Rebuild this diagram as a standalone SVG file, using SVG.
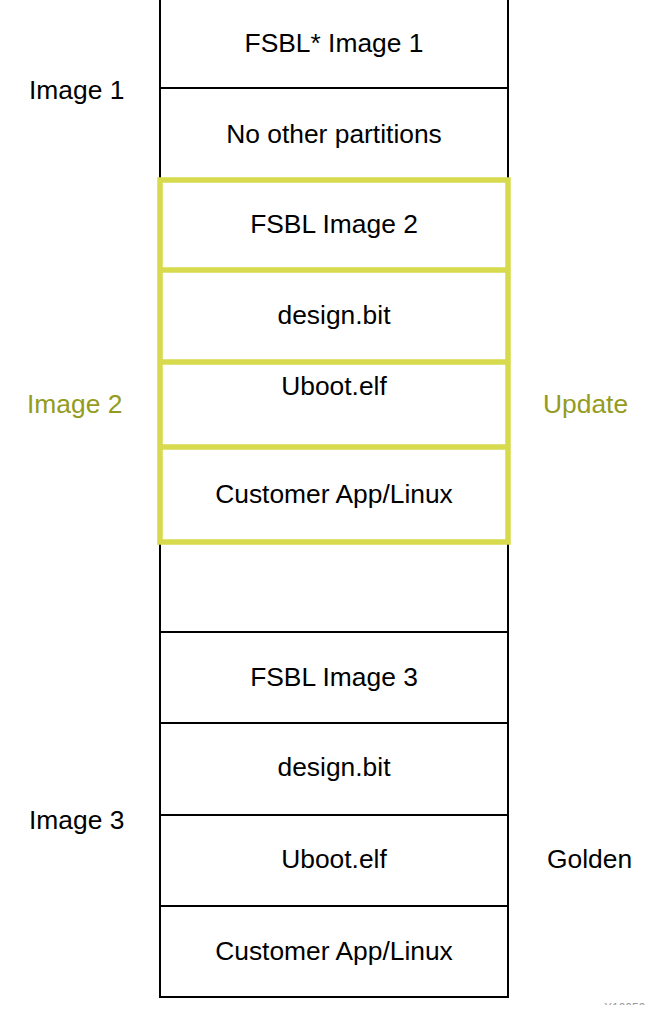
<svg xmlns="http://www.w3.org/2000/svg" width="657" height="1013" viewBox="0 0 657 1013">
<defs>
<style>
.cell{fill:#fff;stroke:#000;stroke-width:2}
.hl{fill:none;stroke:#d6da4c;stroke-width:5.5}
.t{font-family:"Liberation Sans",Arial,sans-serif;font-size:26.4px;fill:#000;text-anchor:middle}
.side{font-family:"Liberation Sans",Arial,sans-serif;font-size:26.4px;fill:#000}
.olive{fill:#949b1e}
.fig{font-family:"Liberation Sans",Arial,sans-serif;font-size:12px;fill:#9a9a9a}
</style>
<clipPath id="figclip"><rect x="590" y="995" width="67" height="10"/></clipPath>
</defs>
<rect width="657" height="1013" fill="#fff"/>
<g id="column">
<g id="fsbl1"><rect class="cell" x="160" y="-5" width="348" height="93"/><text class="t" x="334" y="52">FSBL* Image 1</text></g>
<g id="noother"><rect class="cell" x="160" y="88" width="348" height="92"/><text class="t" x="334" y="143">No other partitions</text></g>
<g id="fsbl2"><rect class="cell" x="160" y="180" width="348" height="90"/><text class="t" x="334" y="233">FSBL Image 2</text></g>
<g id="design2"><rect class="cell" x="160" y="270" width="348" height="92"/><text class="t" x="334" y="324">design.bit</text></g>
<g id="uboot2"><rect class="cell" x="160" y="362" width="348" height="85"/><text class="t" x="334" y="395">Uboot.elf</text></g>
<g id="app2"><rect class="cell" x="160" y="447" width="348" height="95"/><text class="t" x="334" y="503">Customer App/Linux</text></g>
<g id="empty"><rect class="cell" x="160" y="542" width="348" height="90"/></g>
<g id="fsbl3"><rect class="cell" x="160" y="632" width="348" height="91"/><text class="t" x="334" y="686">FSBL Image 3</text></g>
<g id="design3"><rect class="cell" x="160" y="723" width="348" height="92"/><text class="t" x="334" y="776">design.bit</text></g>
<g id="uboot3"><rect class="cell" x="160" y="815" width="348" height="91"/><text class="t" x="334" y="868">Uboot.elf</text></g>
<g id="app3"><rect class="cell" x="160" y="906" width="348" height="91"/><text class="t" x="334" y="960">Customer App/Linux</text></g>
</g>
<g id="update-box">
<rect class="hl" x="160" y="180" width="348" height="362"/>
<line class="hl" x1="160" y1="270" x2="508" y2="270"/>
<line class="hl" x1="160" y1="362" x2="508" y2="362"/>
<line class="hl" x1="160" y1="447" x2="508" y2="447"/>
</g>
<g id="connectors"></g>
<g id="labels">
<text id="lbl-image1" class="side" x="29" y="99">Image 1</text>
<text id="lbl-image2" class="side olive" x="27" y="413">Image 2</text>
<text id="lbl-update" class="side olive" x="543" y="413">Update</text>
<text id="lbl-image3" class="side" x="29" y="829">Image 3</text>
<text id="lbl-golden" class="side" x="547" y="868">Golden</text>
<text id="lbl-fig" class="fig" x="604" y="1012" clip-path="url(#figclip)">X10059</text>
</g>
</svg>
